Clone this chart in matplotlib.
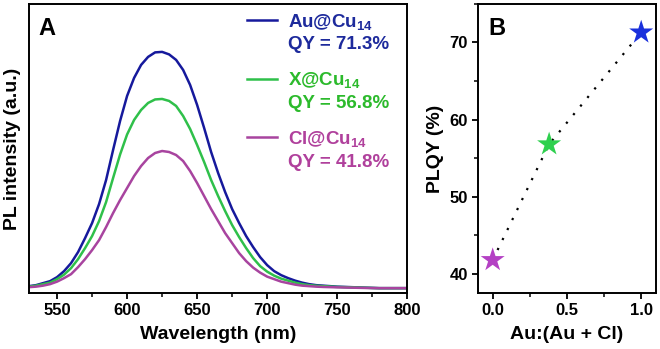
import numpy as np
import matplotlib.pyplot as plt
from matplotlib.legend_handler import HandlerLine2D
from matplotlib.ticker import MultipleLocator

plt.rcParams['font.family'] = ['Liberation Sans', 'DejaVu Sans']
plt.rcParams['font.weight'] = 'bold'
plt.rcParams['mathtext.fontset'] = 'custom'
plt.rcParams['mathtext.rm'] = 'Liberation Sans:bold'
plt.rcParams['mathtext.default'] = 'rm'

# panel A: PL spectra (arbitrary units)
wl = [530, 535, 540, 545, 550, 555, 560, 565, 570, 575, 580, 585, 590, 595,
      600, 605, 610, 615, 620, 625, 630, 635, 640, 645, 650, 655, 660, 665,
      670, 675, 680, 685, 690, 695, 700, 705, 710, 715, 720, 725, 730, 735,
      740, 745, 750, 760, 770, 780, 790, 800]
pl_au = [7, 8, 10, 12, 16, 22, 30, 41, 55, 70, 89, 113, 143, 172,
         197, 215, 228, 236, 240.5, 241, 238.5, 233, 223, 208, 188, 165, 141, 120,
         101, 84, 70, 57, 46, 36, 28, 22, 18, 15, 12.5, 10.5, 9, 8,
         7.5, 7, 6.5, 6, 5.5, 5, 5, 5]
pl_x = [6.5, 7.5, 9, 10.5, 14, 18.5, 25, 34, 45, 57, 72, 91, 115, 138.5,
        158.5, 173, 183, 190, 193.5, 194, 192, 187, 177, 164, 148, 131, 113, 97,
        82, 68, 56, 45, 35, 27, 21.5, 17.5, 14.5, 12.5, 10.5, 9, 8, 7.4,
        7, 6.6, 6.2, 5.8, 5.4, 5, 5, 5]
pl_cl = [6, 6.5, 7.5, 9, 11.5, 15, 19, 26, 34, 43, 53, 66, 80, 93,
         105, 117, 127, 135, 140, 142, 141, 138, 132, 122, 110, 97, 84, 72,
         60, 50, 40, 32, 25.5, 20.5, 16.5, 14, 11.5, 10, 8.5, 7.5, 7, 6.5,
         6.2, 6, 5.8, 5.5, 5.2, 5, 5, 5]
labels = ['Au@Cu$_{14}$\nQY = 71.3%', 'X@Cu$_{14}$\nQY = 56.8%', 'Cl@Cu$_{14}$\nQY = 41.8%']
line_colors = ['#16199c', '#2fc04a', '#a8449f']
text_colors = ['#1d2a9c', '#2cba2c', '#b0409c']

# panel B: PLQY vs composition
ratio = [0.0, 0.38, 1.0]
plqy = [41.8, 56.8, 71.3]
star_colors = ['#b440c4', '#2ed04e', '#1a30dc']


class TopLine(HandlerLine2D):
    # put the legend line next to the first text row
    def create_artists(self, legend, orig_handle, xdescent, ydescent,
                       width, height, fontsize, trans):
        arts = super().create_artists(legend, orig_handle, xdescent, ydescent,
                                      width, height, fontsize, trans)
        for a in arts:
            y = np.asarray(a.get_ydata(), dtype=float)
            a.set_ydata(y + 0.66 * fontsize)
        return arts


fig = plt.figure(figsize=(6.6, 3.49), dpi=100)
axA = fig.add_axes([0.044, 0.160, 0.573, 0.829])
axB = fig.add_axes([0.724, 0.160, 0.270, 0.829])

lines = []
for ys, c in zip([pl_au, pl_x, pl_cl], line_colors):
    ln, = axA.plot(wl, ys, color=c, lw=1.8)
    lines.append(ln)

axA.set_xlim(530, 800)
axA.set_ylim(0, 289)
axA.set_yticks([])
axA.xaxis.set_major_locator(MultipleLocator(50))
axA.xaxis.set_minor_locator(MultipleLocator(25))
axA.set_xlabel('Wavelength (nm)', fontsize=14, fontweight='bold', labelpad=6)
axA.set_ylabel('PL intensity (a.u.)', fontsize=14, fontweight='bold', labelpad=6)
axA.text(0.025, 0.955, 'A', transform=axA.transAxes, fontsize=17,
         fontweight='bold', va='top')

leg = axA.legend(lines, labels, loc='upper left', bbox_to_anchor=(0.567, 0.986),
                 frameon=False, fontsize=13.5, handlelength=1.6,
                 handletextpad=0.6, labelspacing=0.9, borderpad=0.2,
                 borderaxespad=0, handler_map={type(lines[0]): TopLine()})
for t, c in zip(leg.get_texts(), text_colors):
    t.set_color(c)
    t.set_linespacing(1.37)

axB.plot(ratio, plqy, color='black', lw=1.6, ls=(0, (1, 4)), zorder=1)
axB.scatter(ratio, plqy, marker='*', s=330, c=star_colors, edgecolors='none', zorder=3)
axB.set_xlim(-0.1, 1.1)
axB.set_ylim(37.5, 75)
axB.xaxis.set_major_locator(MultipleLocator(0.5))
axB.xaxis.set_minor_locator(MultipleLocator(0.25))
axB.yaxis.set_major_locator(MultipleLocator(10))
axB.yaxis.set_minor_locator(MultipleLocator(5))
axB.set_xlabel('Au:(Au + Cl)', fontsize=14, fontweight='bold', labelpad=6)
axB.set_ylabel('PLQY (%)', fontsize=14, fontweight='bold', labelpad=4)
axB.text(0.06, 0.955, 'B', transform=axB.transAxes, fontsize=17,
         fontweight='bold', va='top')

for ax in (axA, axB):
    for s in ax.spines.values():
        s.set_linewidth(1.4)
    ax.tick_params(which='major', length=4, width=1.3, labelsize=12, pad=3)
    ax.tick_params(which='minor', length=3, width=1.1)
    for lab in ax.get_xticklabels() + ax.get_yticklabels():
        lab.set_fontweight('bold')

fig.savefig('out.png', dpi=100)
